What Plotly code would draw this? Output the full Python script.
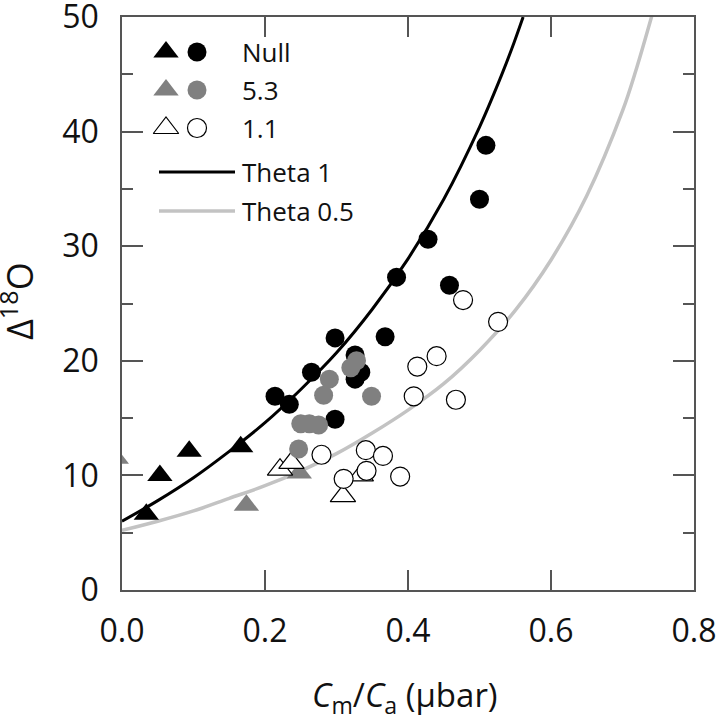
import plotly.graph_objects as go

# ---------------- data ----------------
null_tri_x = [0.034, 0.053, 0.094, 0.166]
null_tri_y = [6.6, 10.0, 12.1, 12.5]
g53_tri_x = [-0.008, 0.174, 0.248]
g53_tri_y = [11.5, 7.4, 10.2]
g11_tri_x = [0.221, 0.237, 0.309, 0.334]
g11_tri_y = [10.5, 11.1, 8.2, 10.0]

null_cir_x = [0.214, 0.234, 0.265, 0.298, 0.326, 0.334, 0.326, 0.298, 0.368, 0.384, 0.428, 0.458, 0.500, 0.509]
null_cir_y = [16.9, 16.2, 19.0, 22.0, 20.5, 19.0, 18.4, 14.9, 22.1, 27.3, 30.6, 26.6, 34.1, 38.8]
g53_cir_x = [0.247, 0.250, 0.262, 0.275, 0.282, 0.290, 0.320, 0.328, 0.349]
g53_cir_y = [12.3, 14.5, 14.5, 14.4, 17.0, 18.4, 19.4, 20.0, 16.9]
g11_cir_x = [0.279, 0.341, 0.365, 0.342, 0.310, 0.389, 0.408, 0.413, 0.440, 0.467, 0.477, 0.526]
g11_cir_y = [11.8, 12.2, 11.7, 10.4, 9.7, 9.9, 16.9, 19.5, 20.4, 16.6, 25.3, 23.4]

theta1_x = [0.0, 0.05, 0.10, 0.15, 0.20, 0.25, 0.30, 0.35, 0.40, 0.45, 0.50, 0.53, 0.545, 0.561]
theta1_y = [6.0, 7.8, 9.8, 12.1, 14.6, 17.5, 20.7, 24.5, 28.9, 34.1, 40.4, 44.8, 47.2, 50.0]
theta05_x = [0.0, 0.05, 0.10, 0.15, 0.20, 0.25, 0.30, 0.35, 0.40, 0.45, 0.50, 0.55, 0.60, 0.65, 0.70, 0.72, 0.741]
theta05_y = [5.2, 6.0, 6.9, 8.0, 9.1, 10.4, 11.9, 13.7, 15.7, 18.0, 20.9, 24.4, 28.8, 34.4, 41.8, 45.6, 50.1]

x_ticks = [0.0, 0.2, 0.4, 0.6, 0.8]
y_ticks = [0, 10, 20, 30, 40, 50]
legend_labels = ["Null", "5.3", "1.1", "Theta 1", "Theta 0.5"]

# ---------------- styles ----------------
FONT = "Open Sans"
BLACK = "#000000"
GREY = "#808080"
LGREY = "#c3c3c3"
AX = "#555555"
TRI = 22
CIR = 19

fig = go.Figure()

fig.add_trace(go.Scatter(x=theta05_x, y=theta05_y, mode="lines", line=dict(color=LGREY, width=3.5, shape="spline"), showlegend=False))
fig.add_trace(go.Scatter(x=theta1_x, y=theta1_y, mode="lines", line=dict(color=BLACK, width=3, shape="spline"), showlegend=False))

def tri(x, y, fill, line_w=0):
    return go.Scatter(x=x, y=y, mode="markers", showlegend=False,
                      marker=dict(symbol="triangle-up", size=TRI, color=fill,
                                  line=dict(color=BLACK, width=line_w)))

def cir(x, y, fill, line_w=0):
    return go.Scatter(x=x, y=y, mode="markers", showlegend=False,
                      marker=dict(symbol="circle", size=CIR, color=fill,
                                  line=dict(color=BLACK, width=line_w)))

fig.add_trace(tri(null_tri_x, null_tri_y, BLACK))
fig.add_trace(tri(g53_tri_x, g53_tri_y, GREY))
fig.add_trace(tri(g11_tri_x, g11_tri_y, "white", 1.2))
fig.add_trace(cir(null_cir_x, null_cir_y, BLACK))
fig.add_trace(cir(g53_cir_x, g53_cir_y, GREY))
fig.add_trace(cir(g11_cir_x, g11_cir_y, "white", 1.2))

# ---------------- custom legend (overlay pixel axes) ----------------
rows_y = [52, 90, 128, 172, 211]
tri_fill = [BLACK, GREY, "white"]
tri_lw = [0, 0, 1.2]
for i in range(3):
    fig.add_trace(go.Scatter(x=[166], y=[rows_y[i]], xaxis="x2", yaxis="y2", mode="markers", showlegend=False,
                             cliponaxis=False,
                             marker=dict(symbol="triangle-up", size=TRI, color=tri_fill[i], line=dict(color=BLACK, width=tri_lw[i]))))
    fig.add_trace(go.Scatter(x=[197], y=[rows_y[i]], xaxis="x2", yaxis="y2", mode="markers", showlegend=False,
                             cliponaxis=False,
                             marker=dict(symbol="circle", size=CIR, color=tri_fill[i], line=dict(color=BLACK, width=tri_lw[i]))))
fig.add_trace(go.Scatter(x=[159, 235], y=[rows_y[3]] * 2, xaxis="x2", yaxis="y2", mode="lines", showlegend=False,
                         line=dict(color=BLACK, width=3)))
fig.add_trace(go.Scatter(x=[159, 235], y=[rows_y[4]] * 2, xaxis="x2", yaxis="y2", mode="lines", showlegend=False,
                         line=dict(color=LGREY, width=3.5)))

annotations = []
for i, lab in enumerate(legend_labels):
    annotations.append(dict(x=240, y=rows_y[i], xref="x2", yref="y2", text=lab, showarrow=False,
                            xanchor="left", yanchor="middle", font=dict(family=FONT, size=26, color="#111")))

# axis titles
L, R, T, B = 122, 694, 17, 590
def px_to_paper(px, py):
    return (px - L) / (R - L), (B - py) / (B - T)

tx, ty = px_to_paper(405, 696)
annotations.append(dict(x=tx, y=ty, xref="paper", yref="paper", showarrow=False, xanchor="center", yanchor="middle",
                        text="<i>C</i><sub>m</sub>/<i>C</i><sub>a</sub> (μbar)", font=dict(family=FONT, size=33, color="#111")))
yx, yy = px_to_paper(17, 301)
annotations.append(dict(x=yx, y=yy, xref="paper", yref="paper", showarrow=False, xanchor="center", yanchor="middle",
                        textangle=-90, text="Δ<sup>18</sup>O", font=dict(family=FONT, size=36, color="#111")))

fig.update_layout(
    width=720, height=717,
    margin=dict(l=L, r=720 - R, t=T, b=717 - B, pad=0),
    paper_bgcolor="white", plot_bgcolor="white",
    showlegend=False,
    font=dict(family=FONT, color="#111"),
    annotations=annotations,
    xaxis=dict(range=[0, 0.8], tickvals=x_ticks, ticktext=[f"{v:.1f}" for v in x_ticks],
               ticks="inside", ticklen=20, tickwidth=1.5, tickcolor=AX,
               showline=True, linecolor=AX, linewidth=1.5, mirror="ticks",
               showgrid=False, zeroline=False, automargin=False, ticklabeloverflow="allow",
               tickfont=dict(family=FONT, size=32, color="#111"), ticklabelstandoff=12),
    yaxis=dict(range=[0, 50], tickvals=y_ticks,
               ticks="inside", ticklen=21, tickwidth=1.5, tickcolor=AX,
               minor=dict(ticks="inside", ticklen=11, dtick=5, tickwidth=1.5, tickcolor=AX, showgrid=False),
               showline=True, linecolor=AX, linewidth=1.5, mirror="ticks",
               showgrid=False, zeroline=False, automargin=False, ticklabeloverflow="allow",
               tickfont=dict(family=FONT, size=32, color="#111"), ticklabelstandoff=15),
    xaxis2=dict(range=[L, R], overlaying="x", visible=False, fixedrange=True),
    yaxis2=dict(range=[B, T], overlaying="y", visible=False, fixedrange=True),
)

fig.write_html("out.html", config={"displayModeBar": False},
               post_script="document.body.style.margin='0';document.body.style.overflow='hidden';")
